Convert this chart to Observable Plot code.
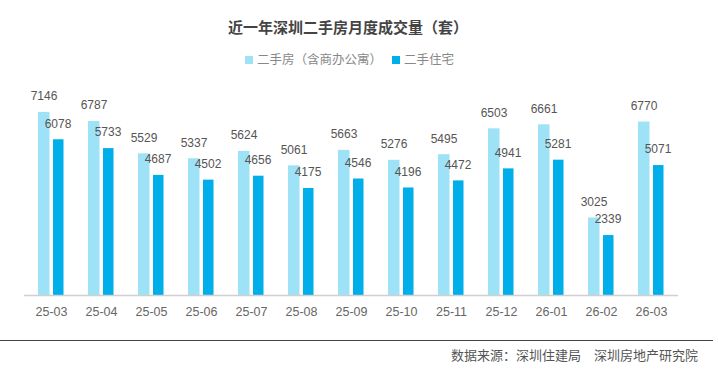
<!DOCTYPE html>
<html>
<head>
<meta charset="utf-8">
<script src="https://cdn.jsdelivr.net/npm/d3@7"></script>
<script src="https://cdn.jsdelivr.net/npm/@observablehq/plot@0.6"></script>
<style>
  body { margin: 0; background: #fff; }
  #wrap { position: relative; width: 718px; height: 370px; overflow: hidden; font-family: "Noto Sans CJK SC", sans-serif; }
  #title { position: absolute; top: 16px; left: 0; width: 696px; text-align: center; font-size: 15px; font-weight: bold; color: #444; line-height: 22px; }
  #legend { position: absolute; top: 50px; left: 245px; font-size: 12.5px; color: #888; line-height: 18px; white-space: nowrap; }
  #legend span.sw { display: inline-block; width: 8px; height: 8px; margin-right: 4px; vertical-align: 0px; }
  #chart { position: absolute; top: 75px; left: 0; }
  #rule { position: absolute; top: 340px; left: 0; width: 713px; border-top: 1.5px solid #444; }
  #source { position: absolute; top: 346px; right: 20px; font-size: 13px; color: #555; line-height: 18px; white-space: nowrap; }
</style>
</head>
<body>
<div id="wrap">
  <div id="title">近一年深圳二手房月度成交量（套）</div>
  <div id="legend"></div>
  <div id="chart"></div>
  <div id="rule"></div>
  <div id="source">数据来源：深圳住建局　深圳房地产研究院</div>
</div>
<script>
const months = ["25-03","25-04","25-05","25-06","25-07","25-08","25-09","25-10","25-11","25-12","26-01","26-02","26-03"];
const seriesNames = ["二手房（含商办公寓）", "二手住宅"];
const allHomes = [7146, 6787, 5529, 5337, 5624, 5061, 5663, 5276, 5495, 6503, 6661, 3025, 6770];
const residential = [6078, 5733, 4687, 4502, 4656, 4175, 4546, 4196, 4472, 4941, 5281, 2339, 5071];
const colors = ["#9ee2f8", "#00aeea"];

const lightData = months.map((m, i) => ({month: m, value: allHomes[i]}));
const darkData = months.map((m, i) => ({month: m, value: residential[i]}));

const legend = document.getElementById("legend");
seriesNames.forEach((name, i) => {
  const item = document.createElement("span");
  item.style.marginRight = "10px";
  item.innerHTML = `<span class="sw" style="background:${colors[i]}"></span>${name}`;
  legend.appendChild(item);
});

const plot = Plot.plot({
  width: 718,
  height: 260,
  marginTop: 15,
  marginBottom: 40,
  marginLeft: 24,
  marginRight: 40,
  style: {fontFamily: "'Liberation Sans', sans-serif", fontSize: "12.5px", color: "#666", background: "transparent"},
  x: {domain: months, padding: 0, tickSize: 0, tickPadding: 12, label: null},
  y: {domain: [0, 8000], axis: null},
  marks: [
    Plot.barY(lightData, {x: "month", y: "value", fill: colors[0], insetLeft: 12, insetRight: 26.5}),
    Plot.barY(darkData, {x: "month", y: "value", fill: colors[1], insetLeft: 27, insetRight: 12.5}),
    Plot.ruleY([0], {stroke: "#d0d0d0", strokeWidth: 1.5}),
    Plot.text(lightData, {x: "month", y: "value", text: d => String(d.value), dx: -7.5, dy: -16, lineAnchor: "middle", fill: "#555", fontSize: 12}),
    Plot.text(darkData, {x: "month", y: "value", text: d => String(d.value), dx: 6.5, dy: -16, lineAnchor: "middle", fill: "#555", fontSize: 12})
  ]
});
document.getElementById("chart").appendChild(plot);
</script>
</body>
</html>
